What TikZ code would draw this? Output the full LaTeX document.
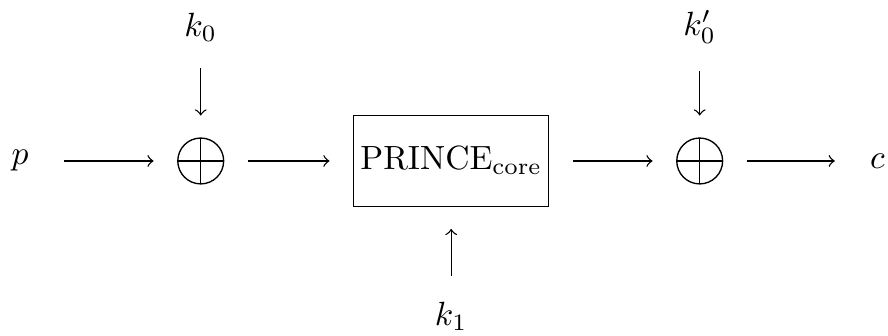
\documentclass[tikz,border=0pt]{standalone}
\usepackage{amsmath}
\usetikzlibrary{calc}
\tikzset{
  xorgate/.style={draw,circle,minimum size=0.48cm,inner sep=0pt,
    path picture={\draw (path picture bounding box.north) -- (path picture bounding box.south)
      (path picture bounding box.west) -- (path picture bounding box.east);}},
  corebox/.style={draw,minimum width=1.9cm,minimum height=0.95cm,inner sep=2pt},
  flow/.style={->,shorten <=7pt,shorten >=7pt},
  keyflow/.style={->,shorten <=4.5pt,shorten >=6.5pt}
}
\begin{document}
\begin{tikzpicture}
\useasboundingbox (-0.21,-1.83) rectangle (9.08,1.684);
\node (p) at (0,0) {$p$};
\node[xorgate] (xa) at (1.89,0) {};
\node[corebox] (core) at (4.51,0) {$\mathrm{PRINCE}_{\mathrm{core}}$};
\node[xorgate] (xb) at (7.11,0) {};
\node (c) at (8.97,0) {$c$};
\node (ka) at (1.89,1.40) {$k_0$};
\node (kb) at (7.11,1.40) {$k_0'$};
\node (kc) at (4.51,-1.63) {$k_1$};
% data path
\foreach \a/\b in {p/xa,xa/core,core/xb,xb/c}{
\draw[flow] (\a) -- (\b);}
% keys
\draw[keyflow] (ka) -- (xa);
\draw[keyflow] (kb) -- (xb);
\draw[keyflow] (kc) -- (core);
\end{tikzpicture}
\end{document}
